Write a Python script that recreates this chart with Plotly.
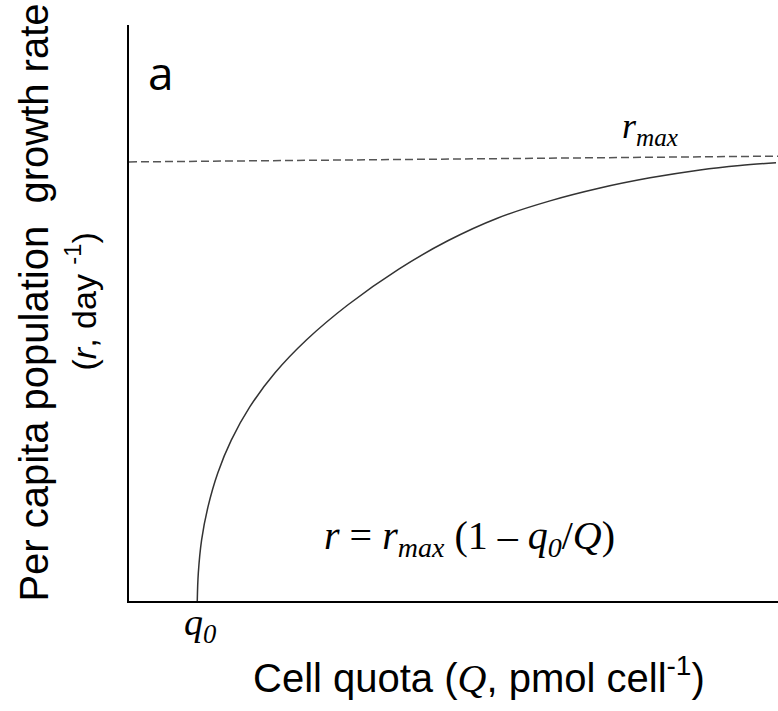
import plotly.graph_objects as go

# Cell quota (Q) and per-capita growth rate (r) along the Droop curve
q_vals = [1.052, 1.068, 1.119, 1.216, 1.368, 1.576, 1.861, 2.250, 2.733, 3.370,
          4.157, 4.912, 5.675, 6.487, 7.257, 8.028, 8.798, 9.414, 9.969]
r_vals = [0.0, 0.063, 0.138, 0.212, 0.289, 0.363, 0.438, 0.515, 0.589, 0.668,
          0.749, 0.813, 0.864, 0.903, 0.932, 0.955, 0.973, 0.983, 0.989]

# Asymptote r_max
rmax_q = [0.0, 10.0]
rmax_r = [0.991, 1.004]

q0 = 1.05

SANS = "Liberation Sans, Arial, sans-serif"
SERIF = "Liberation Serif, Times New Roman, serif"

fig = go.Figure()

fig.add_trace(go.Scatter(
    x=rmax_q, y=rmax_r, mode="lines",
    line=dict(color="#555555", width=1.5, dash="8px,4px"),
    hoverinfo="skip", showlegend=False,
))
fig.add_trace(go.Scatter(
    x=q_vals, y=r_vals, mode="lines",
    line=dict(color="#333333", width=1.5, shape="spline", smoothing=1.0),
    hoverinfo="skip", showlegend=False,
))

annotations = [
    dict(x=0.50, y=1.194, xref="x", yref="y", text="a", showarrow=False,
         font=dict(family="Open Sans, sans-serif", size=46, color="black"),
         xanchor="center", yanchor="middle"),
    dict(x=8.03, y=1.066, xref="x", yref="y",
         text="<i>r<sub>max</sub></i>", showarrow=False,
         font=dict(family=SERIF, size=36, color="black"),
         xanchor="center", yanchor="middle"),
    dict(x=q0 + 0.05, y=-0.042, xref="x", yref="paper",
         text="<i>q<sub>0</sub></i>", showarrow=False,
         font=dict(family=SERIF, size=38, color="black"),
         xanchor="center", yanchor="middle"),
    dict(x=5.24, y=0.142, xref="x", yref="y",
         text="<i>r</i> = <i>r<sub>max</sub></i> (1 – <i>q<sub>0</sub></i>/<i>Q</i>)",
         showarrow=False,
         font=dict(family=SERIF, size=40, color="black"),
         xanchor="center", yanchor="middle"),
    # x-axis title
    dict(x=0.539, y=-0.130, xref="paper", yref="paper",
         text="Cell quota (<span style='font-family:Liberation Serif'><i>Q</i></span>, pmol cell<sup>-1</sup>)",
         showarrow=False, font=dict(family=SANS, size=40, color="black"),
         xanchor="center", yanchor="middle"),
    # y-axis title, two lines
    dict(x=-0.1464, y=0.518, xref="paper", yref="paper",
         text="Per capita population\u00a0 growth rate",
         showarrow=False, textangle=-90,
         font=dict(family=SANS, size=40, color="black"),
         xanchor="center", yanchor="middle"),
    dict(x=-0.074, y=0.520, xref="paper", yref="paper",
         text="(<i>r</i>, day <sup>-1</sup>)",
         showarrow=False, textangle=-90,
         font=dict(family=SANS, size=34, color="black"),
         xanchor="center", yanchor="middle"),
]

fig.update_layout(
    width=778, height=711,
    margin=dict(l=129, r=0, t=25, b=110),
    paper_bgcolor="white", plot_bgcolor="white",
    annotations=annotations,
    xaxis=dict(range=[0, 10], showline=True, linecolor="black", linewidth=2,
               showgrid=False, zeroline=False, showticklabels=False, ticks=""),
    yaxis=dict(range=[0, 1.3], showline=True, linecolor="black", linewidth=2,
               showgrid=False, zeroline=False, showticklabels=False, ticks=""),
)

fig.write_html("out.html")
